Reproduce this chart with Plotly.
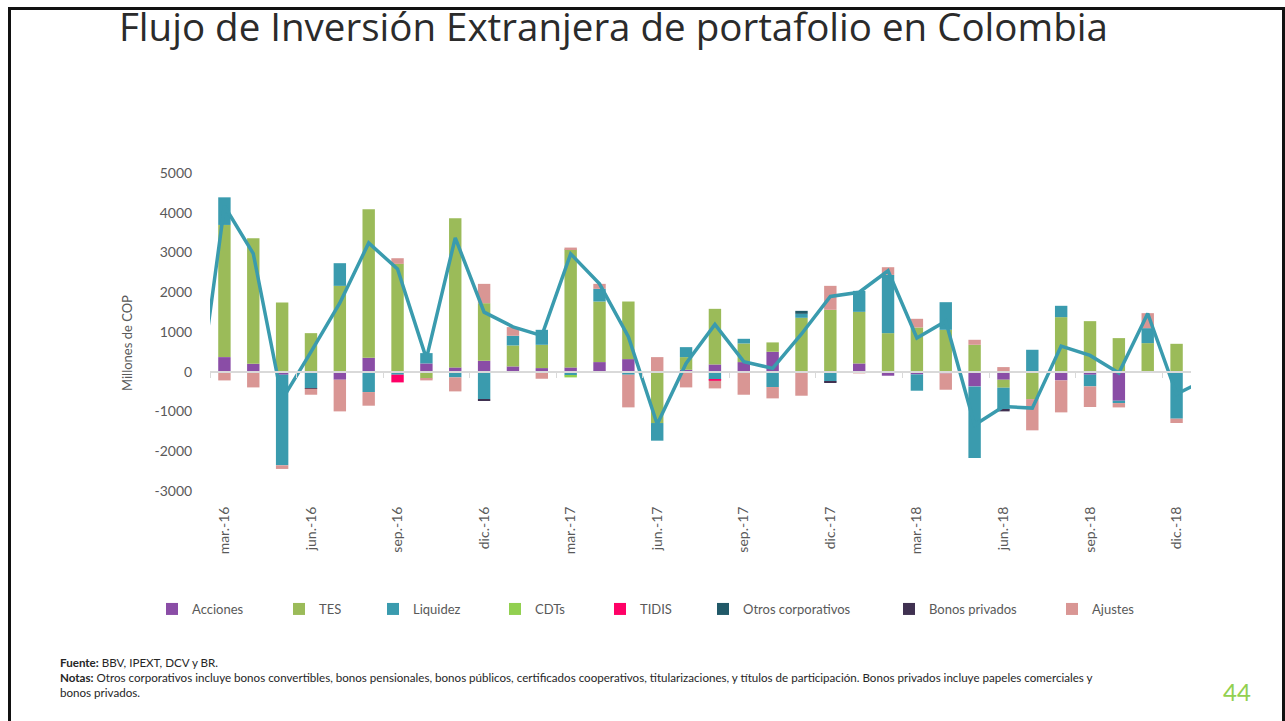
import plotly.graph_objects as go

# Monthly portfolio flows (millones de COP), mar-2016 .. dic-2018
months = ["mar.-16", "abr.-16", "may.-16", "jun.-16", "jul.-16", "ago.-16", "sep.-16", "oct.-16",
          "nov.-16", "dic.-16", "ene.-17", "feb.-17", "mar.-17", "abr.-17", "may.-17", "jun.-17",
          "jul.-17", "ago.-17", "sep.-17", "oct.-17", "nov.-17", "dic.-17", "ene.-18", "feb.-18",
          "mar.-18", "abr.-18", "may.-18", "jun.-18", "jul.-18", "ago.-18", "sep.-18", "oct.-18",
          "nov.-18", "dic.-18"]

acciones = [368, 201, -75, 0, -201, 352, 0, 209, 109, 276, 134, 92, 109, 243, 318, 0,
            50, 184, 243, 503, 0, 0, 209, -100, -67, -42, -368, -201, 0, -218, -75, -729, 0, 0]
tes = [3325, 3157, 1742, 971, 2161, 3735, 2714, -167, 3752, 1449, 528, 586, 2973, 1524, 1449, -1290,
       318, 1399, 469, 235, 1357, 1558, 1298, 971, 1114, 1055, 678, -201, -687, 1374, 1273, 846, 720, 703]
liquidez = [695, 0, -2278, -410, 570, -511, -75, 260, -142, -687, 243, 377, -92, 318, -75, -444,
            251, -201, 117, -385, 100, -243, 528, 1466, -410, 695, -1801, -553, 553, 285, -293, -59, 377, -1181]
cdts = [0, 0, 0, 0, 0, 0, 0, 0, 0, 0, 0, 0, -50, 0, 0, 0,
        0, 0, 0, 0, 0, 0, 0, 0, 0, 0, 0, 0, 0, 0, 0, 0, 0, 0]
tidis = [0, 0, 0, 0, 0, 0, -193, 0, 0, 0, 0, 0, 0, 0, 0, 0,
         0, -25, 0, 0, 0, 0, 0, 0, 0, 0, 0, 0, 0, 0, 0, 0, 0, 0]
otros_corp = [0, 0, 0, 0, 0, 0, 0, 0, 0, 0, 0, 0, 0, 0, 0, 0,
              0, 0, 0, 0, 75, 0, 0, 0, 0, 0, 0, 0, 0, 0, 0, 0, 0, 0]
bonos_priv = [0, 0, 0, -17, 0, 0, 0, 0, 0, -33, 0, 0, 0, 0, 0, 0,
              0, 0, 0, 0, 0, -25, 0, 0, 0, 0, 0, -42, 0, 0, 0, 0, 0, 0]
ajustes = [-218, -394, -92, -151, -796, -343, 142, -50, -352, 486, 218, -176, 42, 126, -821, 368,
           -394, -193, -578, -285, -603, 603, -42, 193, 218, -410, 126, 117, -787, -804, -519, -109, 377, -109]

# Net flow line, including the month before and after the window (feb.-16 .. ene.-19)
flujo_total = [-1200, 4170, 2970, -700, 500, 1730, 3240, 2585, 330, 3370, 1500, 1130, 910, 2965, 2210,
               880, -1320, 210, 1190, 255, 85, 950, 1893, 2000, 2540, 850, 1270, -1340, -875, -915,
               645, 410, -30, 1465, -560, -200]

y_ticks = [-3000, -2000, -1000, 0, 1000, 2000, 3000, 4000, 5000]
y_tick_labels = ["-3000", "-2000", "-1000", "0", "1000", "2000", "3000", "4000", "5000"]

series = [
    ("Acciones", acciones, "#8A4DA6"),
    ("TES", tes, "#9BBB59"),
    ("Liquidez", liquidez, "#3A9BAE"),
    ("CDTs", cdts, "#92D050"),
    ("TIDIS", tidis, "#FF0066"),
    ("Otros corporativos", otros_corp, "#215968"),
    ("Bonos privados", bonos_priv, "#403151"),
    ("Ajustes", ajustes, "#D99694"),
]

# ---- geometry of the page (pixels) ----
W, H = 1285, 721
PL, PR, PT, PB = 210, 1191, 173, 491          # plot area edges
Y_MIN, Y_MAX = -3000, 5000


def px_x(px):
    return (px - PL) / (PR - PL)


def px_y(py):
    return (PB - py) / (PB - PT)


idx = list(range(len(months)))
line_x = list(range(-1, len(months) + 1))

GRAY = "#595959"
FONT = "Lato"

fig = go.Figure()

# legend text start positions along the bottom row
legend_text_px = [192, 319, 413, 535, 640, 743, 929, 1092]

for k, (name, vals, color) in enumerate(series):
    lg = "legend" if k == 0 else f"legend{k + 1}"
    fig.add_trace(go.Bar(
        x=idx, y=vals, name=name, width=0.43,
        marker=dict(color=color, line=dict(width=0)),
        legend=lg,
    ))
    fig.update_layout({lg: dict(
        x=px_x(legend_text_px[k] - 40), xanchor="left",
        y=px_y(609), yanchor="middle",
        orientation="h", bgcolor="rgba(0,0,0,0)",
        font=dict(family=FONT, size=13, color=GRAY),
    )})

fig.add_trace(go.Scatter(
    x=line_x, y=flujo_total, mode="lines", name="Flujo total",
    line=dict(color="#3A9BAE", width=3.5), showlegend=False, cliponaxis=True,
))

# empty trace carrying the zero baseline axis
fig.add_trace(go.Scatter(x=[None], y=[None], xaxis="x2", showlegend=False, hoverinfo="skip"))

tick_idx = idx[::3]
fig.update_layout(
    width=W, height=H, autosize=False,
    margin=dict(l=PL, r=W - PR, t=PT, b=H - PB, pad=0),
    paper_bgcolor="white", plot_bgcolor="white",
    barmode="relative",
    font=dict(family=FONT, color=GRAY),
    xaxis=dict(
        range=[-0.5, len(months) - 0.5], showgrid=False, zeroline=False, showline=False,
        tickmode="array", tickvals=tick_idx, ticktext=[months[i] for i in tick_idx],
        tickangle=-90, ticks="outside", ticklen=9, tickcolor="rgba(0,0,0,0)",
        tickfont=dict(family=FONT, size=14, color=GRAY),
    ),
    xaxis2=dict(
        overlaying="x", anchor="free", side="bottom",
        position=(0 - Y_MIN) / (Y_MAX - Y_MIN),
        range=[-0.5, len(months) - 0.5], showgrid=False, zeroline=False,
        showline=True, linecolor="#D9D9D9", linewidth=1.5,
        tickmode="array", tickvals=[i - 0.5 for i in tick_idx],
        ticks="outside", ticklen=5, tickcolor="#D9D9D9", tickwidth=1,
        showticklabels=False,
    ),
    yaxis=dict(
        range=[Y_MIN, Y_MAX], tickmode="array", tickvals=y_ticks, ticktext=y_tick_labels,
        showgrid=False, zeroline=False, showline=False,
        ticks="outside", ticklen=14, tickcolor="rgba(0,0,0,0)",
        tickfont=dict(family=FONT, size=14, color=GRAY),
    ),
    title=dict(
        text="Flujo de Inversión Extranjera de portafolio en Colombia",
        xref="container", x=119 / W, xanchor="left",
        yref="container", y=1 - 28 / H, yanchor="middle",
        font=dict(family="Open Sans", size=38.5, weight=400, color="#2b2b2b"),
    ),
    showlegend=True,
)

# axis title
fig.add_annotation(
    text="Millones de COP", textangle=-90, showarrow=False,
    xref="paper", yref="paper", x=px_x(127), y=px_y(343),
    xanchor="center", yanchor="middle",
    font=dict(family=FONT, size=13, color=GRAY),
)

# footnotes
notes = [
    (662, "<b>Fuente:</b> BBV, IPEXT, DCV y BR."),
    (677, "<b>Notas:</b> Otros corporativos incluye bonos convertibles, bonos pensionales, bonos públicos, "
          "certificados cooperativos, titularizaciones, y títulos de participación. Bonos privados incluye "
          "papeles comerciales y"),
    (692, "bonos privados."),
]
for py, txt in notes:
    fig.add_annotation(
        text=txt, showarrow=False, xref="paper", yref="paper",
        x=px_x(58), y=px_y(py), xanchor="left", yanchor="middle",
        font=dict(family=FONT, size=11.6, color="#262626"),
    )

# slide number
fig.add_annotation(
    text="44", showarrow=False, xref="paper", yref="paper",
    x=px_x(1237), y=px_y(691), xanchor="center", yanchor="middle",
    font=dict(family=FONT, size=24, weight=400, color="#92D050"),
)

# slide frame
fig.add_shape(
    type="rect", xref="paper", yref="paper",
    x0=px_x(9.5), x1=px_x(1283.5), y0=px_y(8.5), y1=px_y(760),
    line=dict(color="#111111", width=3), fillcolor="rgba(0,0,0,0)", layer="below",
)

fig.write_html("out.html")
